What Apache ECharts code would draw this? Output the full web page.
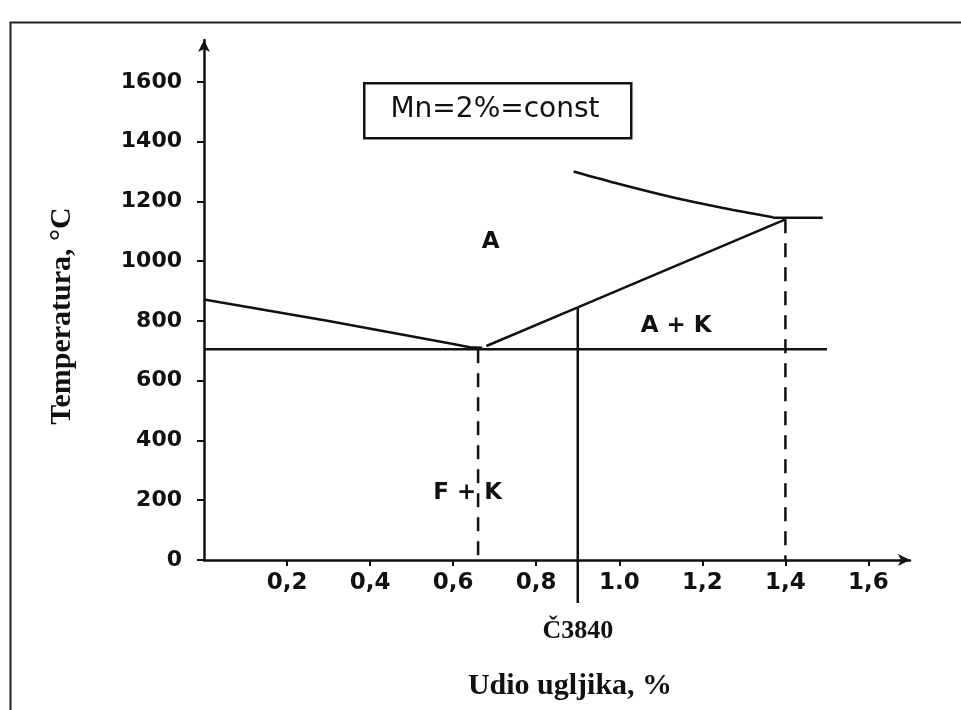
<!DOCTYPE html>
<html>
<head>
<meta charset="utf-8">
<script src="https://cdn.jsdelivr.net/npm/echarts@6/dist/echarts.min.js"></script>
<style>
html,body{margin:0;padding:0;background:#fff;}
#c{width:961px;height:710px;}
</style>
</head>
<body>
<div id="c"></div>
<script>
// ---- data ----
var yTicks = [0, 200, 400, 600, 800, 1000, 1200, 1400, 1600];
var yTickLabels = ['0', '200', '400', '600', '800', '1000', '1200', '1400', '1600'];
var xTicks = [0.2, 0.4, 0.6, 0.8, 1.0, 1.2, 1.4, 1.6];
var xTickLabels = ['0,2', '0,4', '0,6', '0,8', '1.0', '1,2', '1,4', '1,6'];

var eutectoidLine = [[0, 705], [1.5, 705]];
var a3Line = [[0, 872], [0.3, 800], [0.6, 723], [0.64, 712], [0.67, 710]];
var acmLine = [[0.68, 716], [0.9, 845], [1.4, 1140]];
var solidusCurve = [[0.89, 1300], [1.0, 1258], [1.13, 1213], [1.25, 1178], [1.37, 1147]];
var solidusFlat = [[1.37, 1145], [1.49, 1145]];
var steelLine = [[0.9, 845], [0.9, -144]];
var dashedEutectoid = [[0.66, 705], [0.66, 0]];
var dashedRight = [[1.4, 1140], [1.4, 0]];

var regionNames = ['A', 'A + K', 'F + K'];
var regionX = [0.69, 1.137, 0.635];
var regionY = [1064, 783, 224];

var steelName = 'Č3840';
var steelPos = [0.9, -238];

var boxText = 'Mn=2%=const';
var xTitle = 'Udio ugljika, %';
var yTitle = 'Temperatura, °C';

// ---- chart ----
var chart = echarts.init(document.getElementById('c'), null, {renderer: 'canvas'});
var ink = '#111';
function lineSeries(data, dashed, smooth) {
  return {
    type: 'line', data: data, symbol: 'none', clip: false, silent: true, smooth: smooth || false,
    lineStyle: {color: ink, width: 2.5, type: dashed ? [14, 10] : 'solid'},
    z: 3
  };
}
function pick(ticks, labels, v) {
  for (var i = 0; i < ticks.length; i++) if (Math.abs(ticks[i] - v) < 1e-6) return labels[i];
  return '';
}
var labelData = regionNames.map(function (n, i) { return {value: [regionX[i], regionY[i]], name: n}; });

chart.setOption({
  animation: false,
  backgroundColor: '#fff',
  grid: {left: 204, right: 51, top: 40, bottom: 150},
  xAxis: {
    type: 'value', min: 0, max: 1.70,
    axisLine: {show: true, symbol: ['none', 'arrow'], symbolSize: [9, 12], lineStyle: {color: ink, width: 2.5}},
    axisTick: {show: true, length: 6, customValues: xTicks, lineStyle: {color: ink, width: 2}},
    axisLabel: {
      customValues: xTicks, margin: 12,
      fontFamily: 'DejaVu Sans', fontWeight: 'bold', fontSize: 23, color: ink,
      formatter: function (v) { return pick(xTicks, xTickLabels, v); }
    },
    splitLine: {show: false}
  },
  yAxis: {
    type: 'value', min: 0, max: 1740,
    axisLine: {show: true, symbol: ['none', 'arrow'], symbolSize: [9, 12], lineStyle: {color: ink, width: 2.5}},
    axisTick: {show: true, length: 7, customValues: yTicks, lineStyle: {color: ink, width: 2}},
    axisLabel: {
      customValues: yTicks, margin: 22,
      fontFamily: 'DejaVu Sans', fontWeight: 'bold', fontSize: 22, color: ink,
      formatter: function (v) { return pick(yTicks, yTickLabels, v); }
    },
    splitLine: {show: false}
  },
  series: [
    lineSeries(eutectoidLine),
    lineSeries(a3Line),
    lineSeries(acmLine),
    lineSeries(solidusCurve, false, 0.3),
    lineSeries(solidusFlat),
    lineSeries(steelLine),
    lineSeries(dashedEutectoid, true),
    lineSeries(dashedRight, true),
    {
      type: 'scatter', data: labelData, symbolSize: 0, silent: true, clip: false,
      itemStyle: {opacity: 1},
      label: {show: true, position: 'inside', formatter: '{b}', color: ink,
        fontFamily: 'DejaVu Sans', fontWeight: 'bold', fontSize: 23},
      z: 4
    },
    {
      type: 'scatter', data: [{value: steelPos, name: steelName}], symbolSize: 0, silent: true, clip: false,
      itemStyle: {opacity: 1},
      label: {show: true, position: 'inside', formatter: '{b}', color: ink,
        fontFamily: 'Liberation Serif', fontWeight: 'bold', fontSize: 26},
      z: 4
    }
  ],
  graphic: [
    {type: 'rect', left: 8, top: 20, shape: {width: 1000, height: 800},
      style: {fill: 'none', stroke: '#222', lineWidth: 2}, silent: true},
    {type: 'rect', left: 363, top: 82, shape: {width: 267, height: 55},
      style: {fill: '#fff', stroke: ink, lineWidth: 2.5}, silent: true},
    {type: 'text', x: 495, y: 110, style: {text: boxText, align: 'center', verticalAlign: 'middle',
      font: '28px "DejaVu Sans"', fill: ink}, silent: true},
    {type: 'text', x: 570, y: 686, style: {text: xTitle, align: 'center', verticalAlign: 'middle',
      font: 'bold 30px "Liberation Serif"', fill: ink}, silent: true},
    {type: 'text', x: 62, y: 316, rotation: Math.PI / 2, style: {text: yTitle, align: 'center', verticalAlign: 'middle',
      font: 'bold 30px "Liberation Serif"', fill: ink}, silent: true}
  ]
});
</script>
</body>
</html>
